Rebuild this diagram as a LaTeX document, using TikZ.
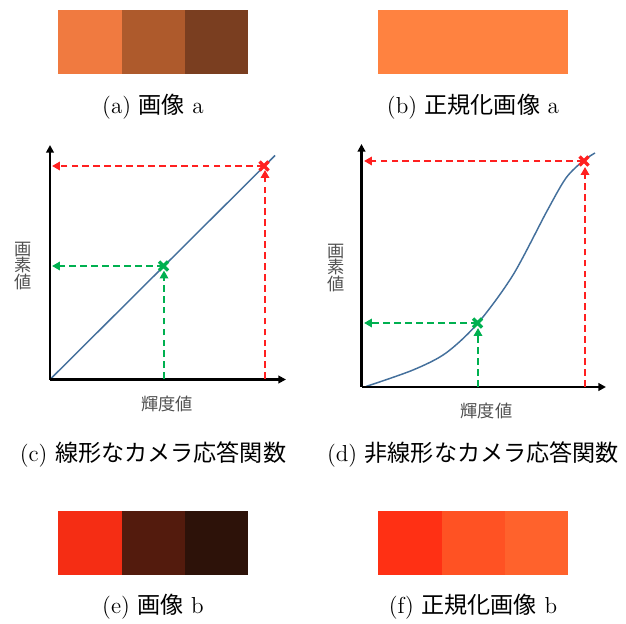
\documentclass[tikz,border=0pt]{standalone}
\usepackage{fontspec}
\newfontfamily\jp{Noto Sans CJK JP}
\usetikzlibrary{arrows.meta,calc}
\definecolor{a1}{RGB}{240,122,64}
\definecolor{a2}{RGB}{174,90,44}
\definecolor{a3}{RGB}{122,62,32}
\definecolor{b1}{RGB}{255,130,64}
\definecolor{e1}{RGB}{245,45,20}
\definecolor{e2}{RGB}{83,27,13}
\definecolor{e3}{RGB}{45,18,9}
\definecolor{f1}{RGB}{255,48,20}
\definecolor{f2}{RGB}{255,82,35}
\definecolor{f3}{RGB}{255,98,44}
\definecolor{rline}{RGB}{255,32,32}
\definecolor{gline}{RGB}{0,176,80}
\definecolor{bline}{RGB}{68,112,156}
\definecolor{lbl}{RGB}{80,80,80}
\tikzset{
  axisline/.style={line width=1.25pt,-{Triangle[length=3.6pt,width=3.6pt]}},
  guide/.style={line width=1pt,dash pattern=on 3.2pt off 2pt,-{Triangle[length=3.8pt,width=4pt]}},
  xmark/.style={line width=1.6pt},
  caption/.style={font=\fontsize{11}{13}\selectfont,inner sep=0pt,anchor=center},
  axlabel/.style={font=\fontsize{8.2}{8}\selectfont\jp,text=lbl,inner sep=0pt,align=center},
  curve/.style={bline,line width=0.7pt}
}
\begin{document}
\begin{tikzpicture}[x=0.476pt,y=-0.476pt]
\useasboundingbox (0,0) rectangle (626,624);
% ---------- (a) ----------
\fill[a1] (58,10) rectangle (122,74);
\fill[a2] (122,10) rectangle (185,74);
\fill[a3] (185,10) rectangle (248,74);
\node[caption] (capa) at (153,107) {(a) {\jp 画像} a};
% ---------- (b) ----------
\fill[b1] (378,10) rectangle (568,74);
\node[caption] (capb) at (473,107) {(b) {\jp 正規化画像} a};
% ---------- (e) ----------
\fill[e1] (58,511) rectangle (122,575);
\fill[e2] (122,511) rectangle (185,575);
\fill[e3] (185,511) rectangle (248,575);
\node[caption] (cape) at (153,607) {(e) {\jp 画像} b};
% ---------- (f) ----------
\fill[f1] (378,511) rectangle (442,575);
\fill[f2] (442,511) rectangle (505,575);
\fill[f3] (505,511) rectangle (568,575);
\node[caption] (capf) at (473,607) {(f) {\jp 正規化画像} b};
% ---------- (c) linear ----------
\coordinate (co) at (50,379.5);
\coordinate (cytop) at (50,145);
\coordinate (cxend) at (286,379.5);
\draw[curve] (co) -- (275,155.5);
\draw[axisline] (co) -- (cytop);
\draw[axisline] (co) -- (cxend);
\coordinate (crx) at (264,166);
\coordinate (cgx) at (163.5,266);
\coordinate (crl) at (52,166);
\coordinate (cgl) at (52,266);
\coordinate (crb) at (265,379);
\coordinate (crt) at (265,170);
\coordinate (cgb) at (164,379);
\coordinate (cgt) at (164,270.5);
\draw[guide,rline] (crx) -- (crl);
\draw[guide,rline] (crb) -- (crt);
\draw[guide,gline] (cgx) -- (cgl);
\draw[guide,gline] (cgb) -- (cgt);
\draw[xmark,rline] ($(crx)+(-4.5,-4.5)$) -- ($(crx)+(4.5,4.5)$) ($(crx)+(-4.5,4.5)$) -- ($(crx)+(4.5,-4.5)$);
\draw[xmark,gline] ($(cgx)+(-4.5,-4.5)$) -- ($(cgx)+(4.5,4.5)$) ($(cgx)+(-4.5,4.5)$) -- ($(cgx)+(4.5,-4.5)$);
\node[axlabel] (cyl) at (23,266) {画\\素\\値};
\node[axlabel] (cxl) at (167,404) {輝度値};
\node[caption] (capc) at (153,455) {(c) {\jp 線形なカメラ応答関数}};
% ---------- (d) nonlinear ----------
\coordinate (do) at (361.5,387);
\coordinate (dytop) at (361.5,144);
\coordinate (dxend) at (606,387);
\draw[curve] plot[smooth,tension=0.5] coordinates {(366,386.5) (413,370) (446,353) (478,323) (513,275) (547,211) (566,178) (583,161) (595,153)};
\draw[axisline] (do) -- (dytop);
\draw[axisline] (do) -- (dxend);
\coordinate (drx) at (584,161);
\coordinate (dgx) at (477.5,323);
\coordinate (drl) at (364,161);
\coordinate (dgl) at (364,323);
\coordinate (drb) at (585,386.5);
\coordinate (drt) at (585,167);
\coordinate (dgb) at (478,386.5);
\coordinate (dgt) at (478,328);
\draw[guide,rline] (drx) -- (drl);
\draw[guide,rline] (drb) -- (drt);
\draw[guide,gline] (dgx) -- (dgl);
\draw[guide,gline] (dgb) -- (dgt);
\draw[xmark,rline] ($(drx)+(-4.5,-4.5)$) -- ($(drx)+(4.5,4.5)$) ($(drx)+(-4.5,4.5)$) -- ($(drx)+(4.5,-4.5)$);
\draw[xmark,gline] ($(dgx)+(-4.5,-4.5)$) -- ($(dgx)+(4.5,4.5)$) ($(dgx)+(-4.5,4.5)$) -- ($(dgx)+(4.5,-4.5)$);
\node[axlabel] (dyl) at (336.5,268) {画\\素\\値};
\node[axlabel] (dxl) at (486.5,411) {輝度値};
\node[caption] (capd) at (473,455) {(d) {\jp 非線形なカメラ応答関数}};
\end{tikzpicture}
\end{document}
